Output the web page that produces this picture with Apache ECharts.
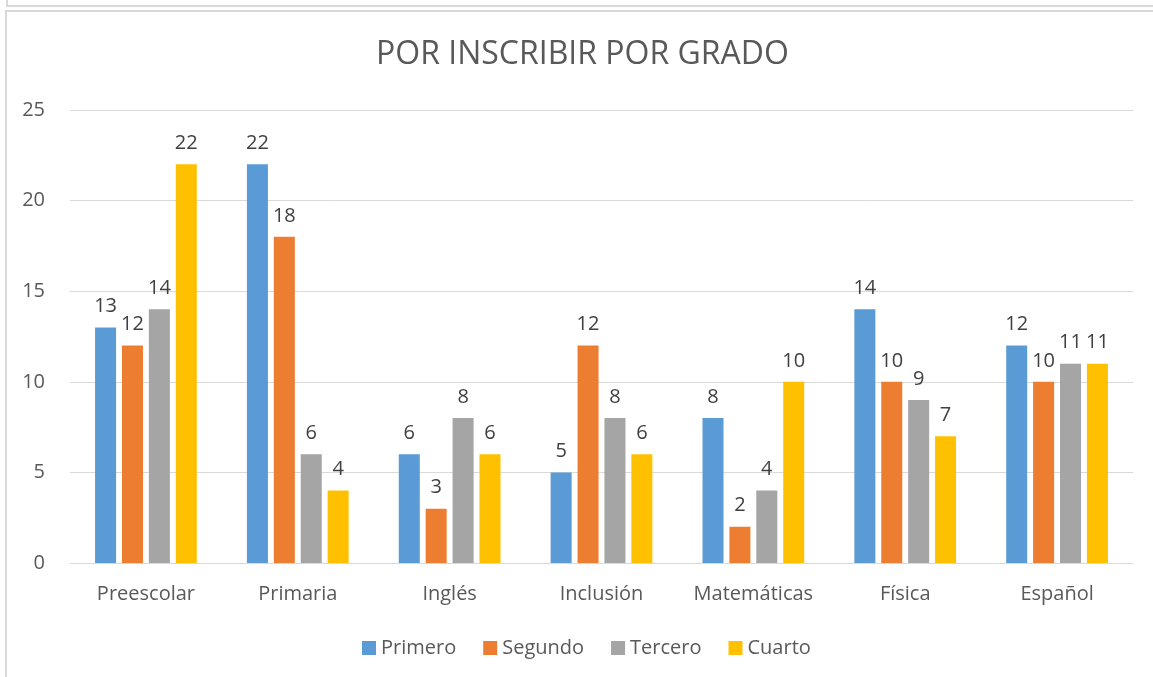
<!DOCTYPE html>
<html>
<head>
<meta charset="utf-8">
<script src="https://cdn.jsdelivr.net/npm/echarts@6/dist/echarts.min.js"></script>
<style>
  html, body { margin: 0; padding: 0; background: #fff; }
  #wrap { position: relative; width: 1153px; height: 677px; overflow: hidden; }
  #prev { position: absolute; left: 6px; top: -20px; width: 1160px; height: 25px; border: 1px solid #d9d9d9; border-width: 0 0 2px 2px; }
  #frame { position: absolute; left: 5px; top: 10px; width: 1160px; height: 680px; border: 2px solid #d9d9d9; box-sizing: border-box; }
  #chart { position: absolute; left: 0; top: 0; width: 1153px; height: 677px; }
</style>
</head>
<body>
<div id="wrap">
  <div id="prev"></div>
  <div id="frame"></div>
  <div id="chart"></div>
</div>
<script>
const categories = ['Preescolar', 'Primaria', 'Inglés', 'Inclusión', 'Matemáticas', 'Física', 'Español'];
const primero = [13, 22, 6, 5, 8, 14, 12];
const segundo = [12, 18, 3, 12, 2, 10, 10];
const tercero = [14, 6, 8, 8, 4, 9, 11];
const cuarto  = [22, 4, 6, 6, 10, 7, 11];
const yTicks = { min: 0, max: 25, interval: 5 };

const font = "'Open Sans', 'Liberation Sans', sans-serif";
const seriesDefs = [
  { name: 'Primero', data: primero, color: '#5B9BD5' },
  { name: 'Segundo', data: segundo, color: '#ED7D31' },
  { name: 'Tercero', data: tercero, color: '#A5A5A5' },
  { name: 'Cuarto',  data: cuarto,  color: '#FFC000' }
];

const chart = echarts.init(document.getElementById('chart'), null, { renderer: 'canvas' });
chart.setOption({
  animation: false,
  backgroundColor: 'transparent',
  title: {
    text: 'POR INSCRIBIR POR GRADO',
    left: 371,
    top: 34,
    textStyle: { fontFamily: font, fontSize: 32, fontWeight: 'normal', color: '#595959' }
  },
  legend: {
    bottom: 14,
    left: 357,
    itemWidth: 14,
    itemHeight: 14,
    itemGap: 27,
    icon: 'rect',
    textStyle: { fontFamily: font, fontSize: 20, color: '#595959' }
  },
  grid: { left: 70, right: 20, top: 110, bottom: 114 },
  xAxis: {
    type: 'category',
    data: categories,
    axisLine: { lineStyle: { color: '#d9d9d9', width: 1 } },
    axisTick: { show: false },
    axisLabel: { fontFamily: font, fontSize: 20, color: '#595959', margin: 21, interval: 0 }
  },
  yAxis: {
    type: 'value',
    min: yTicks.min,
    max: yTicks.max,
    interval: yTicks.interval,
    axisLine: { show: false },
    axisTick: { show: false },
    axisLabel: { fontFamily: font, fontSize: 20, color: '#595959', margin: 25 },
    splitLine: { lineStyle: { color: '#d9d9d9', width: 1 } }
  },
  series: seriesDefs.map(s => ({
    name: s.name,
    type: 'bar',
    data: s.data,
    barGap: '28%',
    barCategoryGap: '33%',
    itemStyle: { color: s.color },
    label: {
      show: true,
      position: 'top',
      distance: 11,
      fontFamily: font,
      fontSize: 20,
      color: '#404040'
    }
  }))
});
</script>
</body>
</html>
